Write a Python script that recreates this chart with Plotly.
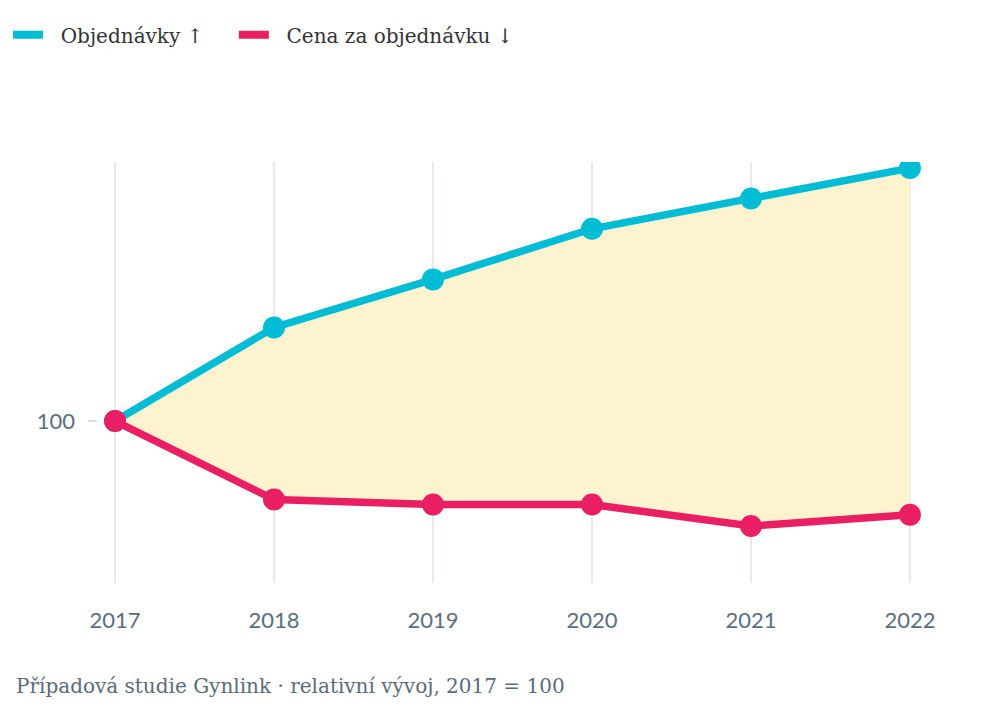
import plotly.graph_objects as go

years = [2017, 2018, 2019, 2020, 2021, 2022]
objednavky = [100, 137, 156, 176, 188, 200]
cena = [100, 69, 67, 67, 58.5, 63]

labels = ["Objednávky ↑", "Cena za objednávku ↓"]
caption = "Případová studie Gynlink · relativní vývoj, 2017 = 100"

blue = "#00bcd4"
red = "#e91e63"
fill = "#fdf3cf"
tick_col = "#5a6e7f"

x_lo, x_hi = 2016.83, 2022.17
pad = "\u00a0\u00a0"

fig = go.Figure()

# shaded band between the two series
fig.add_trace(go.Scatter(x=years, y=cena, mode="lines", line=dict(width=0),
                         showlegend=False, hoverinfo="skip"))
fig.add_trace(go.Scatter(x=years, y=objednavky, mode="lines", line=dict(width=0),
                         fill="tonexty", fillcolor=fill, showlegend=False, hoverinfo="skip"))

# reference line at 100
fig.add_shape(type="line", xref="paper", yref="y", x0=0, x1=(2022 - x_lo) / (x_hi - x_lo),
              y0=100, y1=100, line=dict(color="#cdd3dc", width=1.5, dash="dash"), layer="below")

fig.add_trace(go.Scatter(x=years, y=objednavky, mode="lines+markers", showlegend=False,
                         line=dict(color=blue, width=7.5), marker=dict(size=22, color=blue)))
fig.add_trace(go.Scatter(x=years, y=cena, mode="lines+markers", showlegend=False,
                         line=dict(color=red, width=7.5), marker=dict(size=22, color=red)))

# legend entries (line only)
fig.add_trace(go.Scatter(x=[None], y=[None], mode="lines", name=pad + labels[0] + pad + pad,
                         line=dict(color=blue, width=8)))
fig.add_trace(go.Scatter(x=[None], y=[None], mode="lines", name=pad + labels[1],
                         line=dict(color=red, width=8)))

fig.add_annotation(text=caption, xref="paper", yref="paper", x=-74 / 849, y=-0.245,
                   xanchor="left", yanchor="middle", showarrow=False,
                   font=dict(family="DejaVu Serif", size=20, color="#5a6b79"))

fig.update_layout(
    width=982, height=720,
    margin=dict(l=80, r=53, t=154, b=145),
    paper_bgcolor="white", plot_bgcolor="white",
    legend=dict(orientation="h", traceorder="normal", xref="container", yref="container",
                x=0.0, y=0.99, yanchor="top", xanchor="left",
                font=dict(family="DejaVu Serif", size=20, color="#333333"),
                itemwidth=30),
    xaxis=dict(range=[x_lo, x_hi], tickvals=years, ticktext=[str(y) for y in years],
               showgrid=True, gridcolor="#e6e9ee", gridwidth=1.5, zeroline=False,
               showline=False, ticks="", ticklabelstandoff=22,
               tickfont=dict(family="Lato", size=22, color=tick_col)),
    yaxis=dict(range=[36, 202.4], tickvals=[100], showgrid=False, zeroline=False,
               showline=False, ticks="", ticklabelstandoff=12,
               tickfont=dict(family="Lato", size=22, color=tick_col)),
    hovermode=False,
)

fig.write_html("out.html")
